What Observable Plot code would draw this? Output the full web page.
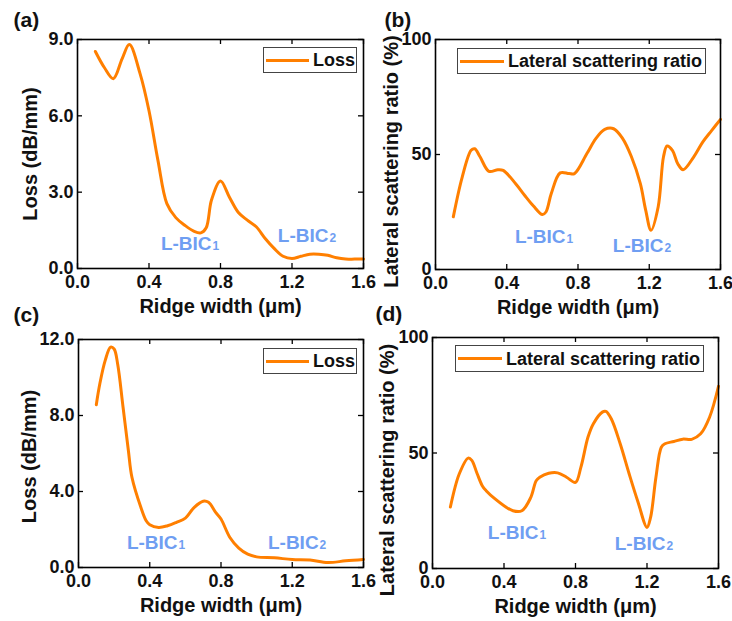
<!DOCTYPE html>
<html>
<head>
<meta charset="utf-8">
<script src="https://cdn.jsdelivr.net/npm/d3@7"></script>
<script src="https://cdn.jsdelivr.net/npm/@observablehq/plot@0.6"></script>
<style>
  html, body { margin: 0; padding: 0; background: #fff; }
  #wrap { position: relative; width: 732px; height: 621px; overflow: hidden; font-family: "Liberation Sans", Arial, sans-serif; }
  .panel { position: absolute; }
  .legend { position: absolute; border: 1px solid #444; box-sizing: border-box; background: #fff; }
  .legend .swatch { position: absolute; height: 3px; background: #ff7f00; }
  .legend .lab { position: absolute; font-weight: bold; font-size: 18px; color: #111; white-space: nowrap; line-height: 1; }
</style>
</head>
<body>
<div id="wrap"></div>
<script>
// ---------------- data ----------------
const xTicks = [0, 0.4, 0.8, 1.2, 1.6];
const xLabel = "Ridge width (μm)";
const panelLabels = ["(a)", "(b)", "(c)", "(d)"];
const seriesNames = ["Loss", "Lateral scattering ratio", "Loss", "Lateral scattering ratio"];
const yLabels = ["Loss (dB/mm)", "Lateral scattering ratio (%)", "Loss (dB/mm)", "Lateral scattering ratio (%)"];
const yTicksLoss9 = [0, 3, 6, 9];
const yTicksLoss12 = [0, 4, 8, 12];
const yTicksRatio = [0, 50, 100];

const widthA = [0.10,0.15,0.20,0.25,0.29,0.35,0.40,0.45,0.50,0.55,0.60,0.65,0.69,0.72,0.75,0.80,0.85,0.90,0.95,1.00,1.05,1.10,1.15,1.20,1.25,1.30,1.35,1.40,1.45,1.50,1.55,1.60];
const lossA  = [8.53,7.90,7.46,8.25,8.80,7.66,6.20,4.25,2.55,2.00,1.70,1.47,1.40,1.60,2.70,3.44,2.80,2.20,1.90,1.64,1.18,0.79,0.48,0.39,0.48,0.56,0.56,0.52,0.42,0.37,0.37,0.37];

const widthB = [0.10,0.15,0.20,0.22,0.25,0.30,0.35,0.38,0.45,0.50,0.55,0.60,0.62,0.65,0.70,0.75,0.78,0.85,0.90,0.95,1.00,1.05,1.10,1.15,1.18,1.21,1.25,1.28,1.30,1.33,1.36,1.39,1.45,1.50,1.55,1.60];
const ratioB = [22.9,40.2,51.8,52.5,49.0,42.7,43.4,43.1,37.3,32.3,27.6,23.9,25.0,33.0,42.0,41.7,41.7,50.4,56.9,60.9,61.2,57.0,49.0,37.3,25.8,17.1,27.2,49.0,53.7,51.8,46.0,43.4,49.0,55.4,60.4,65.3];

const widthC = [0.10,0.12,0.15,0.18,0.20,0.22,0.25,0.28,0.30,0.35,0.38,0.40,0.45,0.50,0.55,0.60,0.65,0.70,0.73,0.77,0.80,0.85,0.90,0.95,1.00,1.10,1.20,1.30,1.40,1.50,1.60];
const lossC  = [8.57,9.68,10.9,11.6,11.5,10.7,8.45,6.16,4.75,3.17,2.46,2.25,2.11,2.20,2.38,2.60,3.17,3.49,3.43,2.90,2.55,1.58,1.02,0.70,0.56,0.51,0.42,0.39,0.26,0.35,0.42];

const widthD = [0.10,0.15,0.20,0.22,0.25,0.28,0.30,0.35,0.40,0.45,0.50,0.55,0.58,0.60,0.65,0.70,0.75,0.80,0.83,0.87,0.90,0.95,0.97,1.00,1.05,1.10,1.15,1.20,1.22,1.25,1.28,1.30,1.35,1.40,1.45,1.50,1.55,1.60];
const ratioD = [26.6,41.0,47.8,46.8,41.0,35.6,33.7,30.1,27.2,25.0,25.0,30.8,38.0,39.5,41.2,41.4,39.5,37.3,43.8,56.9,62.7,67.7,68.0,64.8,54.0,41.0,28.7,17.8,22.1,39.5,52.5,54.0,55.0,56.0,55.9,58.3,65.5,78.9];

// annotation anchor points (data units): boundary between "L-BIC" and subscript, baseline
const annoX = [[0.750, 1.404], [0.730, 1.280], [0.556, 1.348], [0.593, 1.303]];
const annoY = [[0.71, 1.06], [11.7, 7.4], [0.95, 1.0], [12.6, 7.8]];
const annoSub = ["1", "2"];

// ---------------- layout ----------------
const ORANGE = "#ff7f00";
const BLUE = "#6f9ef2";
const FONT = "'Liberation Sans', Arial, sans-serif";

const panels = [
  {left: 0,   top: 0,   w: 366, h: 320, ml: 77, mr: 3,  mt: 39, mb: 52, xs: widthA, ys: lossA,  yDom: [0, 9],   yTicks: yTicksLoss9,  fmt: ".1f",
   lab: {dx: -64, dy: -13}, ylab: {dx: -41, dy: 0},  legend: {l: 263, t: 47, w: 94, h: 26, sw: 43}},
  {left: 366, top: 0,   w: 366, h: 320, ml: 69, mr: 12, mt: 39, mb: 51, xs: widthB, ys: ratioB, yDom: [0, 100], yTicks: yTicksRatio, fmt: "d",
   lab: {dx: -51, dy: -13}, ylab: {dx: -38, dy: 7},  legend: {l: 457, t: 48, w: 249, h: 26, sw: 44}},
  {left: 0,   top: 310, w: 366, h: 311, ml: 78, mr: 3,  mt: 29, mb: 54, xs: widthC, ys: lossC,  yDom: [0, 12],  yTicks: yTicksLoss12, fmt: ".1f",
   lab: {dx: -65, dy: -18}, ylab: {dx: -43, dy: 3},  legend: {l: 263, t: 348, w: 94, h: 26, sw: 43}},
  {left: 366, top: 310, w: 366, h: 311, ml: 66, mr: 14, mt: 27, mb: 53, xs: widthD, ys: ratioD, yDom: [0, 100], yTicks: yTicksRatio, fmt: "d",
   lab: {dx: -57, dy: -17}, ylab: {dx: -39, dy: 17}, legend: {l: 455, t: 345, w: 249, h: 27, sw: 44}}
];

const wrap = document.getElementById("wrap");

panels.forEach((p, i) => {
  const data = p.xs.map((x, k) => ({x, y: p.ys[k]}));
  const innerH = p.h - p.mt - p.mb;
  const innerW = p.w - p.ml - p.mr;
  const TL = 5;
  const annos = annoX[i].map((x, k) => ({x, y: annoY[i][k], sub: annoSub[k]}));
  const chart = Plot.plot({
    width: p.w, height: p.h,
    marginLeft: p.ml, marginRight: p.mr, marginTop: p.mt, marginBottom: p.mb,
    style: {background: "transparent", overflow: "visible", fontFamily: FONT},
    x: {domain: [0, 1.6]},
    y: {domain: p.yDom},
    marks: [
      Plot.line(data, {x: "x", y: "y", stroke: ORANGE, strokeWidth: 3, curve: "catmull-rom"}),
      // inward ticks on all four sides
      Plot.ruleX(xTicks, {x: d => d, stroke: "black", strokeWidth: 1.3, insetTop: innerH - TL}),
      Plot.ruleX(xTicks, {x: d => d, stroke: "black", strokeWidth: 1.3, insetBottom: innerH - TL}),
      Plot.ruleY(p.yTicks, {y: d => d, stroke: "black", strokeWidth: 1.3, insetRight: innerW - TL}),
      Plot.ruleY(p.yTicks, {y: d => d, stroke: "black", strokeWidth: 1.3, insetLeft: innerW - TL}),
      Plot.frame({stroke: "black", strokeWidth: 1.6}),
      Plot.axisX({ticks: xTicks, tickFormat: d3.format(".1f"), tickSize: 0, tickPadding: 7, label: null,
                  fontSize: 18, fontWeight: "bold", fill: "#111"}),
      Plot.axisY({ticks: p.yTicks, tickFormat: d3.format(p.fmt), tickSize: 0, tickPadding: 4, label: null,
                  fontSize: 18, fontWeight: "bold", fill: "#111"}),
      Plot.text([xLabel], {text: d => d, frameAnchor: "bottom", textAnchor: "middle", dy: 44, lineAnchor: "bottom",
                  fontSize: 20, fontWeight: "bold", fill: "#111"}),
      Plot.text([yLabels[i]], {text: d => d, frameAnchor: "left", textAnchor: "middle", dx: p.ylab.dx, dy: p.ylab.dy, rotate: -90,
                  lineAnchor: "bottom", fontSize: 20, fontWeight: "bold", fill: "#111"}),
      Plot.text([panelLabels[i]], {text: d => d, frameAnchor: "top-left", dx: p.lab.dx, dy: p.lab.dy,
                  textAnchor: "start", lineAnchor: "bottom", fontSize: 21, fontWeight: "bold", fill: "#111"}),
      Plot.text(annos, {x: "x", y: "y", text: () => "L-BIC", textAnchor: "end", lineAnchor: "bottom",
                  fontSize: 19, fontWeight: "bold", fill: BLUE}),
      Plot.text(annos, {x: "x", y: "y", text: "sub", textAnchor: "start", lineAnchor: "bottom", dx: 1,
                  fontSize: 12, fontWeight: "bold", fill: BLUE})
    ]
  });
  chart.classList.add("panel");
  chart.style.left = p.left + "px";
  chart.style.top = p.top + "px";
  wrap.appendChild(chart);

  // legend box
  const lg = document.createElement("div");
  lg.className = "legend";
  lg.style.left = p.legend.l + "px";
  lg.style.top = p.legend.t + "px";
  lg.style.width = p.legend.w + "px";
  lg.style.height = p.legend.h + "px";
  const sw = document.createElement("div");
  sw.className = "swatch";
  sw.style.left = "2px";
  sw.style.width = p.legend.sw + "px";
  sw.style.top = (p.legend.h / 2 - 2.5) + "px";
  const lb = document.createElement("div");
  lb.className = "lab";
  lb.textContent = seriesNames[i];
  lb.style.left = (p.legend.sw + 6) + "px";
  lb.style.top = (p.legend.h / 2 - 10) + "px";
  lg.appendChild(sw);
  lg.appendChild(lb);
  wrap.appendChild(lg);
});
</script>
</body>
</html>
